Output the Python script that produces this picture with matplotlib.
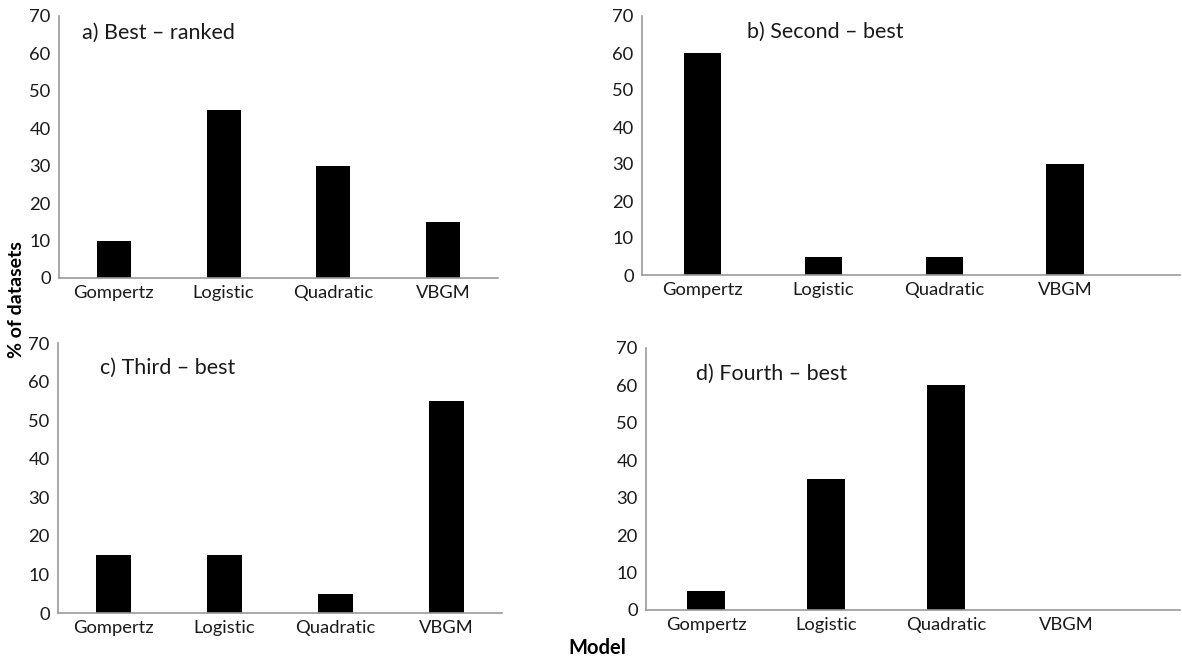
import matplotlib.pyplot as plt

plt.rcParams['font.family'] = ['Lato', 'DejaVu Sans']

models = ["Gompertz", "Logistic", "Quadratic", "VBGM"]
best_ranked = [10, 45, 30, 15]
second_best = [60, 5, 5, 30]
third_best = [15, 15, 5, 55]
fourth_best = [5, 35, 60, 0]

titles = ["a) Best \u2013 ranked", "b) Second \u2013 best",
          "c) Third \u2013 best", "d) Fourth \u2013 best"]
yticks = [0, 10, 20, 30, 40, 50, 60, 70]

W, H = 1182, 659
fig = plt.figure(figsize=(W / 100, H / 100), dpi=100)

# panel boxes in pixels: left, right, top, bottom, x upper limit, title pos
panels = [
    (59, 498, 16, 278, 3.5, (0.052, 0.935), best_ranked),
    (642, 1180, 16, 275, 3.95, (0.195, 0.938), second_best),
    (58, 502, 343, 613, 3.5, (0.095, 0.907), third_best),
    (646, 1180, 348, 610, 3.95, (0.094, 0.90), fourth_best),
]

for (l, r, t, b, xmax, (tx, ty), vals), title in zip(panels, titles):
    ax = fig.add_axes([l / W, 1 - b / H, (r - l) / W, (b - t) / H])
    x = range(len(models))
    ax.bar(x, vals, width=0.31, color="black")
    ax.set_xlim(-0.5, xmax)
    ax.set_ylim(0, 70)
    ax.set_yticks(yticks)
    ax.set_xticks(list(x))
    ax.set_xticklabels(models)
    ax.tick_params(axis="both", length=0, labelsize=13.2, colors="#1a1a1a")
    ax.tick_params(axis="y", pad=6)
    ax.tick_params(axis="x", pad=5)
    for s in ["top", "right"]:
        ax.spines[s].set_visible(False)
    for s in ["left", "bottom"]:
        ax.spines[s].set_color("#999999")
        ax.spines[s].set_linewidth(1.2)
    ax.text(tx, ty, title, transform=ax.transAxes, fontsize=15.5,
            color="#1a1a1a", va="center", ha="left")

fig.text(17 / W, 1 - 300 / H, "% of datasets", rotation=90, fontsize=14,
         fontweight="bold", ha="center", va="center")
fig.text(597 / W, 1 - 648 / H, "Model", fontsize=14.5, fontweight="bold",
         ha="center", va="center")

fig.savefig("out.png", dpi=100)
